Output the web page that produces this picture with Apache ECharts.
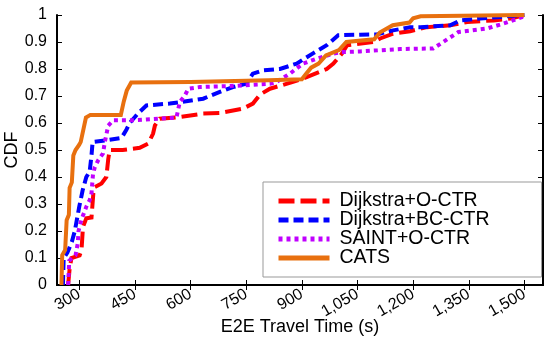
<!DOCTYPE html>
<html>
<head>
<meta charset="utf-8">
<script src="https://cdn.jsdelivr.net/npm/echarts@6/dist/echarts.min.js"></script>
<style>
html,body{margin:0;padding:0;background:#fff;}
#chart{width:550px;height:342px;}
</style>
</head>
<body>
<div id="chart"></div>
<script>
// Series names
const seriesNames = ['Dijkstra+O-CTR', 'Dijkstra+BC-CTR', 'SAINT+O-CTR', 'CATS'];

// X tick values (E2E travel time, s)
const xTicks = [300, 450, 600, 750, 900, 1050, 1200, 1350, 1500];

// [time, CDF] points for each series
const dijkstraOCTR = [
  [270,0],[274,0.06],[279,0.1],[301,0.11],[306,0.128],[310,0.215],[319,0.247],[333,0.25],
  [338,0.34],[342,0.363],[360,0.376],[373,0.4],[378,0.465],[382,0.5],[417,0.5],[463,0.508],
  [486,0.524],[499,0.561],[504,0.591],[517,0.616],[571,0.622],[634,0.635],[679,0.637],
  [741,0.653],[768,0.672],[787,0.705],[814,0.727],[876,0.752],[913,0.77],[967,0.8],
  [985,0.82],[1008,0.857],[1022,0.888],[1093,0.9],[1111,0.913],[1146,0.931],[1192,0.94],
  [1237,0.955],[1300,0.962],[1346,0.974],[1417,0.98],[1463,0.987],[1500,1.0]
];
const dijkstraBCCTR = [
  [256,0],[258,0.1],[268,0.12],[280,0.16],[288,0.2],[300,0.29],[309,0.35],[319,0.4],
  [328,0.42],[333,0.48],[336,0.53],[373,0.536],[414,0.545],[427,0.575],[436,0.6],
  [458,0.635],[481,0.665],[544,0.672],[576,0.678],[634,0.69],[679,0.715],[714,0.733],
  [751,0.746],[768,0.783],[795,0.795],[841,0.8],[886,0.82],[930,0.858],[967,0.888],
  [998,0.925],[1057,0.927],[1102,0.928],[1146,0.943],[1192,0.955],[1219,0.955],
  [1300,0.962],[1327,0.98],[1381,0.987],[1435,0.993],[1500,1.0]
];
const saintOCTR = [
  [270,0],[273,0.09],[290,0.11],[296,0.155],[298,0.2],[303,0.228],[308,0.25],[319,0.29],
  [328,0.314],[333,0.34],[337,0.41],[342,0.437],[351,0.462],[364,0.487],[369,0.53],
  [378,0.59],[391,0.61],[441,0.61],[562,0.62],[571,0.678],[584,0.7],[594,0.727],
  [625,0.733],[724,0.738],[814,0.745],[832,0.752],[868,0.783],[903,0.82],[940,0.838],
  [984,0.857],[1011,0.863],[1057,0.865],[1165,0.874],[1254,0.876],[1281,0.9],
  [1322,0.937],[1399,0.95],[1443,0.968],[1500,0.995]
];
const cats = [
  [252,0],[254,0.11],[262,0.13],[266,0.24],[272,0.26],[274,0.36],[280,0.38],[284,0.48],
  [290,0.5],[300,0.52],[304,0.53],[318,0.62],[330,0.63],[412,0.63],[420,0.68],[428,0.72],
  [440,0.75],[600,0.752],[810,0.758],[900,0.762],[910,0.78],[925,0.805],[945,0.82],
  [965,0.85],[1000,0.87],[1020,0.9],[1095,0.91],[1110,0.935],[1145,0.962],[1190,0.972],
  [1200,0.988],[1220,0.995],[1500,1.0]
];

const seriesData = [dijkstraOCTR, dijkstraBCCTR, saintOCTR, cats];
const colors = ['#ff0000', '#0000ff', '#c000ff', '#e8700f'];
const dashes = [[16, 6], [10, 5], [4, 4], 'solid'];

const font = 'Liberation Sans, Arial, sans-serif';
const chart = echarts.init(document.getElementById('chart'), null, {renderer: 'canvas'});

const axisLine = {show: true, lineStyle: {color: '#000', width: 2}};
const tick = {show: true, inside: true, length: 5, lineStyle: {color: '#000', width: 1}};

chart.setOption({
  animation: false,
  backgroundColor: '#fff',
  grid: {left: 57, right: 7, top: 15, bottom: 57, containLabel: false, outerBoundsMode: 'none'},
  xAxis: [{
    type: 'value', position: 'bottom', min: 240, max: 1550,
    name: 'E2E Travel Time (s)', nameLocation: 'middle', nameGap: 33, nameMoveOverlap: false,
    nameTextStyle: {fontFamily: font, fontSize: 18, color: '#000'},
    axisLine: axisLine,
    axisTick: Object.assign({customValues: xTicks}, tick),
    axisLabel: {customValues: xTicks, rotate: 30, margin: 8, fontFamily: font, fontSize: 16, color: '#000',
      formatter: v => v.toLocaleString('en-US')},
    splitLine: {show: false}
  }, {
    type: 'value', position: 'top', min: 240, max: 1550,
    axisLine: axisLine,
    axisTick: Object.assign({customValues: xTicks}, tick),
    axisLabel: {show: false},
    splitLine: {show: false}
  }],
  yAxis: [{
    type: 'value', position: 'left', min: 0, max: 1, interval: 0.1,
    name: 'CDF', nameLocation: 'middle', nameGap: 36, nameRotate: 90, nameMoveOverlap: false,
    nameTextStyle: {fontFamily: font, fontSize: 18, color: '#000'},
    axisLine: axisLine, axisTick: tick,
    axisLabel: {margin: 10, fontFamily: font, fontSize: 16, color: '#000',
      formatter: v => (v === 0 ? '0' : v === 1 ? '1' : v.toFixed(1))},
    splitLine: {show: false}
  }, {
    type: 'value', position: 'right', min: 0, max: 1, interval: 0.1,
    axisLine: axisLine, axisTick: tick,
    axisLabel: {show: false},
    splitLine: {show: false}
  }],
  legend: {
    orient: 'vertical', left: 263, top: 182,
    padding: [9, 52, 9, 13], itemGap: -1,
    itemWidth: 51, itemHeight: 14,
    backgroundColor: '#fff', borderColor: '#999', borderWidth: 1,
    itemStyle: {opacity: 0},
    lineStyle: {width: 5},
    textStyle: {fontFamily: font, fontSize: 19.5, color: '#000', lineHeight: 19, padding: [0, 0, 0, 5]},
    data: seriesNames
  },
  series: seriesNames.map((n, i) => ({
    name: n, type: 'line', data: seriesData[i],
    xAxisIndex: 0, yAxisIndex: 0,
    symbol: 'none', smooth: false,
    lineStyle: {color: colors[i], width: 4, type: dashes[i], cap: 'butt', join: 'miter'},
    itemStyle: {color: colors[i]},
    z: 2 + i
  }))
});
</script>
</body>
</html>
